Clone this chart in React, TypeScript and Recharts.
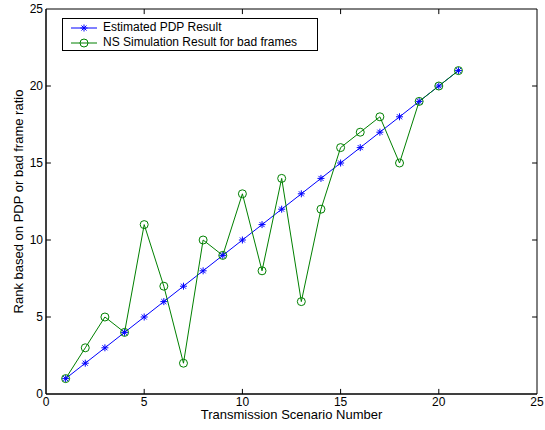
import React from "react";
import {
  LineChart,
  Line,
  XAxis,
  YAxis,
  ReferenceArea,
  ReferenceLine,
} from "recharts";

const scenarios = [1, 2, 3, 4, 5, 6, 7, 8, 9, 10, 11, 12, 13, 14, 15, 16, 17, 18, 19, 20, 21];
const pdpRank = [1, 2, 3, 4, 5, 6, 7, 8, 9, 10, 11, 12, 13, 14, 15, 16, 17, 18, 19, 20, 21];
const nsRank = [1, 3, 5, 4, 11, 7, 2, 10, 9, 13, 8, 14, 6, 12, 16, 17, 18, 15, 19, 20, 21];
const xTicks = [0, 5, 10, 15, 20, 25];
const yTicks = [0, 5, 10, 15, 20, 25];
const seriesNames = ["Estimated PDP Result", "NS Simulation Result for bad frames"];

const data = scenarios.map((s, i) => ({ x: s, pdp: pdpRank[i], ns: nsRank[i] }));

const BLUE = "#0000ff";
const GREEN = "#008000";
const FONT = "Arial, 'Liberation Sans', Helvetica, sans-serif";

const StarDot = (props: any) => {
  const { cx, cy } = props;
  if (cx == null || cy == null) return null;
  const r = 3.5;
  const d = r * 0.72;
  return (
    <g stroke={BLUE} strokeWidth={1}>
      <line x1={cx - r} y1={cy} x2={cx + r} y2={cy} />
      <line x1={cx} y1={cy - r} x2={cx} y2={cy + r} />
      <line x1={cx - d} y1={cy - d} x2={cx + d} y2={cy + d} />
      <line x1={cx - d} y1={cy + d} x2={cx + d} y2={cy - d} />
    </g>
  );
};

const CircleDot = (props: any) => {
  const { cx, cy } = props;
  if (cx == null || cy == null) return null;
  return <circle cx={cx} cy={cy} r={4} fill="none" stroke={GREEN} strokeWidth={1} />;
};

const LegendBox = () => (
  <div
    style={{
      position: "absolute",
      left: 62,
      top: 18,
      border: "1px solid #000",
      background: "#fff",
      width: 256,
      height: 33,
      boxSizing: "border-box",
      fontFamily: FONT,
      fontSize: 12,
      color: "#000",
      paddingTop: 1,
    }}
  >
    {[
      { label: seriesNames[0], color: BLUE, kind: "star" },
      { label: seriesNames[1], color: GREEN, kind: "circle" },
    ].map((it) => (
      <div key={it.label} style={{ display: "flex", alignItems: "center", height: 15, lineHeight: "15px" }}>
        <svg width={34} height={14} style={{ marginLeft: 6, flex: "none" }}>
          <line x1={2} y1={7} x2={28} y2={7} stroke={it.color} strokeWidth={1} />
          {it.kind === "star" ? (
            <StarDot cx={15} cy={7} />
          ) : (
            <circle cx={15} cy={7} r={4} fill="none" stroke={it.color} />
          )}
        </svg>
        <span style={{ whiteSpace: "nowrap" }}>{it.label}</span>
      </div>
    ))}
  </div>
);

export default function App() {
  const tickLen = 0.33;
  const tickLenX = 0.25;
  return (
    <div style={{ position: "absolute", left: 0, top: 0, width: 545, height: 430, background: "#fff" }}>
      <LineChart
        width={545}
        height={430}
        data={data}
        margin={{ top: 9, right: 8, left: 6, bottom: 0 }}
      >
        <XAxis
          dataKey="x"
          type="number"
          domain={[0, 25]}
          ticks={xTicks}
          tickLine={false}
          axisLine={{ stroke: "#000" }}
          height={36}
          tickMargin={1}
          tickSize={2}
          tick={{ fill: "#000", fontSize: 12, fontFamily: FONT }}
          allowDataOverflow
          label={{
            value: "Transmission Scenario Number",
            position: "insideBottom",
            offset: 11,
            fill: "#000",
            fontSize: 13,
            fontFamily: FONT,
          }}
        />
        <YAxis
          type="number"
          domain={[0, 25]}
          ticks={yTicks}
          tickLine={false}
          axisLine={{ stroke: "#000" }}
          width={40}
          tickMargin={1}
          tickSize={2}
          tick={{ fill: "#000", fontSize: 12, fontFamily: FONT }}
          allowDataOverflow
          label={{
            value: "Rank based on PDP or bad frame ratio",
            angle: -90,
            position: "insideLeft",
            offset: 12,
            style: { textAnchor: "middle" },
            fill: "#000",
            fontSize: 13,
            fontFamily: FONT,
          }}
        />
        <ReferenceArea x1={0} x2={25} y1={0} y2={25} fill="none" stroke="#000" strokeWidth={1} ifOverflow="visible" />
        {xTicks.slice(1, -1).map((v) => (
          <ReferenceLine
            key={"xb" + v}
            segment={[{ x: v, y: 0 }, { x: v, y: tickLen }]}
            stroke="#000"
            ifOverflow="visible"
          />
        ))}
        {xTicks.slice(1, -1).map((v) => (
          <ReferenceLine
            key={"xt" + v}
            segment={[{ x: v, y: 25 }, { x: v, y: 25 - tickLen }]}
            stroke="#000"
            ifOverflow="visible"
          />
        ))}
        {yTicks.slice(1, -1).map((v) => (
          <ReferenceLine
            key={"yl" + v}
            segment={[{ x: 0, y: v }, { x: tickLenX, y: v }]}
            stroke="#000"
            ifOverflow="visible"
          />
        ))}
        {yTicks.slice(1, -1).map((v) => (
          <ReferenceLine
            key={"yr" + v}
            segment={[{ x: 25, y: v }, { x: 25 - tickLenX, y: v }]}
            stroke="#000"
            ifOverflow="visible"
          />
        ))}
        <Line
          dataKey="pdp"
          stroke={BLUE}
          strokeWidth={1}
          dot={<StarDot />}
          activeDot={false}
          isAnimationActive={false}
          name={seriesNames[0]}
        />
        <Line
          dataKey="ns"
          stroke={GREEN}
          strokeWidth={1}
          dot={<CircleDot />}
          activeDot={false}
          isAnimationActive={false}
          name={seriesNames[1]}
        />
      </LineChart>
      <LegendBox />
    </div>
  );
}
